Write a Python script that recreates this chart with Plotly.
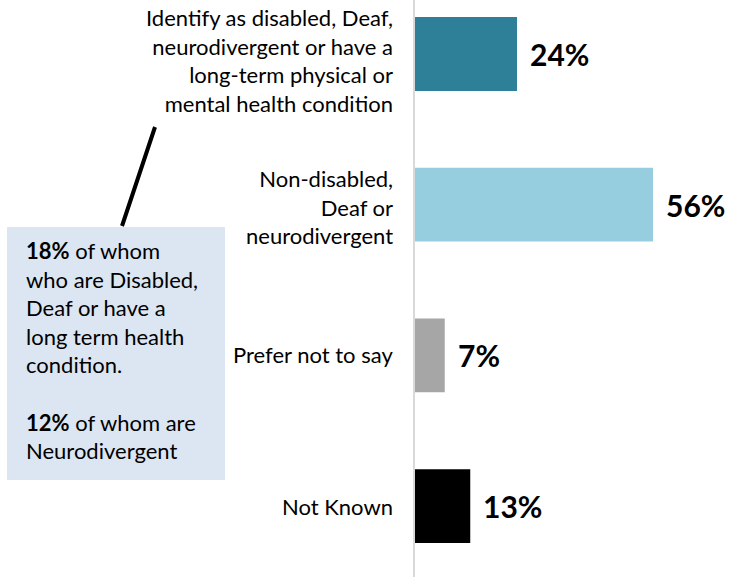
import plotly.graph_objects as go

# Disability / neurodivergence breakdown
categories = [
    "Identify as disabled, Deaf,<br>neurodivergent or have a<br>long-term physical or<br>mental health condition",
    "Non-disabled,<br>Deaf or<br>neurodivergent",
    "Prefer not to say",
    "Not Known",
]
values = [24, 56, 7, 13]
value_labels = ["24%", "56%", "7%", "13%"]
bar_colors = ["#2e8098", "#96cddf", "#a6a6a6", "#000000"]
label_shifts = [-6, -2, 1, 0]

callout_lines = [
    "<b>18%</b> of whom",
    "who are Disabled,",
    "Deaf or have a",
    "long term health",
    "condition.",
    "",
    "<b>12%</b> of whom are",
    "Neurodivergent",
]

W, H = 730, 577
FONT = "Lato"
positions = list(range(len(categories)))

fig = go.Figure()
fig.add_trace(go.Bar(
    x=values,
    y=positions,
    orientation="h",
    width=0.49,
    marker=dict(color=bar_colors, line=dict(width=0)),
    hoverinfo="skip",
))

# value labels to the right of each bar
for p, v, lab in zip(positions, values, value_labels):
    fig.add_annotation(
        x=v, y=p, xref="x", yref="y", text=f"<b>{lab}</b>",
        showarrow=False, xanchor="left", yanchor="middle", xshift=11,
        font=dict(family=FONT, size=30, color="#000000"),
    )

# category labels, right aligned against the axis
for p, cat, s in zip(positions, categories, label_shifts):
    fig.add_annotation(
        x=395 / W, y=p, xref="paper", yref="y", text=cat,
        showarrow=False, xanchor="right", yanchor="middle", align="right",
        yshift=s,
        font=dict(family=FONT, size=22, color="#000000"),
    )

# callout box with connector line
def px(x):
    return x / W

def py(y):
    return 1 - y / H

fig.add_shape(type="rect", xref="paper", yref="paper",
              x0=px(7), x1=px(225), y0=py(480), y1=py(227),
              fillcolor="#dce6f2", line=dict(width=0), layer="below")
fig.add_shape(type="line", xref="paper", yref="paper",
              x0=px(155), y0=py(127), x1=px(122), y1=py(226),
              line=dict(color="#000000", width=4))
fig.add_annotation(
    x=px(24), y=py(235), xref="paper", yref="paper",
    text="<br>".join(callout_lines), showarrow=False,
    xanchor="left", yanchor="top", align="left",
    font=dict(family=FONT, size=22, color="#000000"),
)

top_px, pitch = 54, 150.7
fig.update_layout(
    width=W, height=H,
    margin=dict(l=0, r=0, t=0, b=0),
    paper_bgcolor="#ffffff", plot_bgcolor="#ffffff",
    showlegend=False,
    xaxis=dict(domain=[415 / W, 1], range=[0, 315 / 4.25],
               showgrid=False, zeroline=False, showticklabels=False,
               showline=False, fixedrange=True),
    yaxis=dict(range=[(H - top_px) / pitch, -top_px / pitch],
               showgrid=False, zeroline=False, showticklabels=False,
               showline=True, linecolor="#d9d9d9", linewidth=2,
               fixedrange=True),
)

fig.write_html("out.html")
